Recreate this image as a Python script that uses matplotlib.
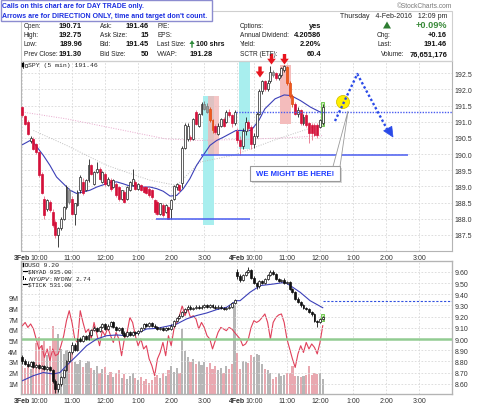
import matplotlib
matplotlib.use("Agg")
import matplotlib.pyplot as plt
from matplotlib.patches import Rectangle, Polygon, Ellipse
from matplotlib.lines import Line2D
import numpy as np

plt.rcParams['font.family'] = ['Liberation Sans', 'DejaVu Sans']

# ---------------- data ----------------
tick_bars = [0, 6, 18, 30, 42, 54, 66, 78, 84, 96, 108, 120, 132, 144]
tick_labels = ["3Feb", "10:00", "11:00", "12:00", "1:00", "2:00", "3:00",
               "4Feb", "10:00", "11:00", "12:00", "1:00", "2:00", "3:00"]
top_ticks = [187.5, 188.0, 188.5, 189.0, 189.5, 190.0, 190.5, 191.0, 191.5, 192.0, 192.5]
uso_ticks = [8.6, 8.7, 8.8, 8.9, 9.0, 9.1, 9.2, 9.3, 9.4, 9.5, 9.6]
vol_ticks = [1, 2, 3, 4, 5, 6, 7, 8, 9]

spy_open = [191.45, 191.19, 191.00, 190.40, 190.47, 190.30, 190.06, 189.39, 188.62, 188.31,
            188.52, 188.21, 187.90, 187.49, 187.70, 188.00, 188.36, 188.88, 188.62, 188.16,
            188.42, 188.88, 189.14, 188.88, 189.19, 189.65, 189.08, 189.44, 189.55, 189.14,
            189.39, 189.03, 189.19, 188.98, 189.08, 188.98, 188.62, 188.83, 188.62, 188.88,
            189.03, 189.14, 188.93, 189.03, 188.98, 188.98, 188.93, 188.88, 188.57, 188.52,
            188.16, 188.42, 188.21, 188.36, 188.31, 188.62, 188.98, 189.03, 189.10, 190.20,
            190.47, 190.52, 190.47, 191.30, 190.88, 191.24, 191.40, 191.50, 191.40, 191.04,
            190.88, 190.63, 190.88, 191.09, 190.98, 191.30, 191.20, 190.95,
            190.71, 190.45, 190.25, 190.70, 191.00, 190.85, 190.30, 190.55, 191.25, 191.95,
            192.25, 192.00, 192.25, 192.55, 192.50, 192.35, 192.45, 192.60, 192.70, 192.20,
            191.80, 191.55, 191.25, 191.35, 190.95, 191.20, 190.95, 190.90, 190.90, 190.90,
            190.85, 190.95]
spy_high = [191.50, 191.22, 191.05, 190.55, 190.52, 190.35, 190.10, 189.45, 188.70, 188.62,
            188.58, 188.30, 187.95, 187.75, 188.05, 188.40, 189.05, 188.95, 188.70, 188.50,
            188.88, 189.35, 189.25, 189.22, 189.86, 189.70, 189.48, 189.75, 189.60, 189.48,
            189.45, 189.28, 189.25, 189.22, 189.12, 189.02, 188.90, 188.88, 189.00, 189.18,
            189.55, 189.20, 189.10, 189.08, 189.02, 189.02, 188.98, 188.92, 188.62, 188.58,
            188.50, 188.48, 188.45, 188.40, 188.62, 189.05, 189.10, 189.08, 190.25, 190.95,
            190.95, 190.60, 191.12, 191.35, 191.28, 191.60, 191.65, 191.58, 191.45, 191.08,
            190.92, 190.95, 191.12, 191.15, 191.35, 191.40, 191.25, 191.35,
            190.80, 190.55, 190.80, 191.15, 191.05, 190.90, 190.65, 191.30, 192.00, 192.30,
            192.30, 192.28, 192.72, 192.60, 192.55, 192.50, 192.70, 192.75, 192.72, 192.25,
            191.85, 191.60, 191.45, 191.40, 191.25, 191.30, 191.00, 190.95, 190.95, 190.95,
            191.10, 191.55]
spy_low = [191.15, 190.90, 190.60, 190.35, 190.12, 190.00, 189.30, 188.75, 188.00, 188.25,
           188.20, 187.75, 187.39, 187.13, 187.65, 187.95, 188.30, 188.45, 188.10, 187.80,
           188.38, 188.80, 188.72, 188.85, 189.15, 189.35, 189.05, 189.40, 189.20, 189.10,
           189.00, 189.00, 188.85, 188.95, 188.68, 188.55, 188.58, 188.48, 188.58, 188.85,
           189.00, 188.90, 188.88, 188.85, 188.78, 188.75, 188.68, 188.62, 188.15, 188.10,
           188.10, 188.05, 188.18, 187.98, 188.00, 188.58, 188.90, 188.80, 188.95, 190.15,
           190.40, 190.40, 190.42, 190.90, 190.85, 191.20, 191.35, 191.28, 191.00, 190.65,
           190.62, 190.58, 190.85, 190.85, 190.95, 191.15, 190.85, 190.90,
           190.35, 189.96, 190.15, 190.60, 190.70, 190.15, 190.20, 190.50, 191.20, 191.85,
           191.95, 191.95, 192.20, 192.40, 192.30, 192.30, 192.40, 192.55, 192.15, 191.75,
           191.45, 191.20, 191.15, 190.90, 190.90, 190.85, 190.35, 190.45, 190.55, 190.50,
           190.80, 190.90]
spy_close = [191.20, 190.94, 190.63, 190.50, 190.16, 190.06, 189.34, 188.78, 188.11, 188.57,
             188.26, 187.80, 187.49, 187.70, 188.00, 188.36, 188.98, 188.52, 188.16, 188.47,
             188.83, 189.29, 188.78, 189.19, 189.65, 189.39, 189.44, 189.55, 189.24, 189.44,
             189.08, 189.24, 188.93, 189.19, 188.72, 188.62, 188.88, 188.52, 188.98, 189.14,
             189.24, 188.93, 189.08, 188.88, 188.83, 188.78, 188.72, 188.67, 188.21, 188.16,
             188.47, 188.11, 188.42, 188.00, 188.57, 189.00, 189.08, 188.88, 190.20, 190.90,
             190.88, 190.47, 191.09, 190.94, 191.24, 191.55, 191.55, 191.30, 191.04, 190.73,
             190.68, 190.88, 191.09, 190.88, 191.30, 191.20, 190.95, 191.30,
             190.45, 190.25, 190.70, 191.00, 190.80, 190.30, 190.55, 191.25, 191.95, 192.25,
             192.00, 192.20, 192.55, 192.45, 192.35, 192.45, 192.65, 192.72, 192.20, 191.80,
             191.55, 191.25, 191.35, 190.95, 191.15, 190.90, 190.65, 190.65, 190.60, 190.60,
             191.05, 191.46]
spy_gray_bars = [17, 66, 67, 91]
spy_orange_bars = [68, 69, 96, 97, 98]

spy_ma_bars = [0, 2.8, 4, 5.8, 7.6, 10, 12.4, 14.9, 17.3, 19.7, 22.1, 24.5, 27, 29.4, 31.8,
               34.2, 36.6, 39, 41.5, 43.9, 46.3, 48.7, 51.1, 53.6, 56, 58.4, 60.8, 63.2, 65.6,
               68.1, 70.5, 72.9, 75.3, 77.5, 79.5, 83, 85.8, 88, 91.7, 95, 97.5, 101, 104.6,
               108.3, 109]
spy_ma_vals = [190.29, 190.42, 190.37, 190.16, 189.96, 189.65, 189.29, 189.08, 188.88, 188.78,
               188.83, 188.88, 188.98, 189.05, 189.12, 189.14, 189.08, 189.01, 189.01, 188.98,
               188.98, 188.93, 188.85, 188.70, 188.72, 188.93, 189.24, 189.65, 189.96, 190.27,
               190.42, 190.52, 190.63, 190.73, 190.73, 190.73, 191.04, 191.40, 191.71, 191.83,
               191.81, 191.65, 191.45, 191.29, 191.27]
spy_ma2_bars = [0, 16, 34, 52, 64, 78, 95, 109]
spy_ma2_vals = [191.30, 191.09, 190.78, 190.47, 190.42, 190.45, 190.50, 190.57]
spy_ma3_bars = [4, 16, 30.6, 46.3, 56, 64.4, 76.5, 92, 109]
spy_ma3_vals = [190.73, 190.27, 189.65, 189.19, 189.03, 189.75, 189.96, 190.45, 190.93]

prev_close = 191.30
support_upper = 189.96
support_lower = 188.00

uso_open = [8.84, 8.80, 8.78, 8.76, 8.79, 8.75, 8.77, 8.74, 8.76, 8.73,
            8.75, 8.72, 8.62, 8.55, 8.60, 8.66, 8.72, 8.80, 8.88, 8.95,
            8.90, 9.00, 8.98, 9.03, 9.00, 9.04, 9.08, 9.10, 9.07, 9.11,
            9.13, 9.09, 9.12, 9.15, 9.11, 9.08, 9.10, 9.05, 9.03, 9.06,
            9.04, 9.06, 9.05, 9.07, 9.10, 9.13, 9.12, 9.14, 9.12, 9.11,
            9.09, 9.10, 9.08, 9.10, 9.09, 9.12, 9.16, 9.19, 9.21, 9.24,
            9.27, 9.29, 9.27, 9.28, 9.29, 9.28, 9.29, 9.30, 9.29, 9.30,
            9.29, 9.28, 9.29, 9.28, 9.27, 9.28, 9.29, 9.32,
            9.60, 9.56, 9.53, 9.57, 9.60, 9.62, 9.55, 9.50, 9.47, 9.52,
            9.50, 9.54, 9.57, 9.60, 9.58, 9.54, 9.52, 9.53, 9.50, 9.51,
            9.45, 9.42, 9.36, 9.33, 9.30, 9.28, 9.27, 9.24, 9.22, 9.16,
            9.15, 9.18]
uso_high = [8.86, 8.82, 8.80, 8.80, 8.80, 8.78, 8.78, 8.77, 8.77, 8.76,
            8.76, 8.73, 8.64, 8.61, 8.67, 8.73, 8.81, 8.89, 8.97, 8.96,
            9.01, 9.02, 9.04, 9.04, 9.06, 9.09, 9.12, 9.11, 9.12, 9.14,
            9.14, 9.13, 9.16, 9.16, 9.12, 9.11, 9.11, 9.07, 9.07, 9.07,
            9.07, 9.07, 9.08, 9.11, 9.14, 9.14, 9.15, 9.15, 9.13, 9.12,
            9.11, 9.11, 9.11, 9.11, 9.13, 9.17, 9.20, 9.22, 9.25, 9.28,
            9.30, 9.30, 9.29, 9.30, 9.30, 9.30, 9.31, 9.31, 9.31, 9.31,
            9.30, 9.30, 9.30, 9.29, 9.29, 9.30, 9.33, 9.36,
            9.63, 9.58, 9.58, 9.61, 9.64, 9.63, 9.56, 9.51, 9.53, 9.53,
            9.55, 9.58, 9.62, 9.62, 9.59, 9.55, 9.54, 9.55, 9.52, 9.52,
            9.46, 9.43, 9.38, 9.34, 9.31, 9.29, 9.28, 9.25, 9.23, 9.17,
            9.19, 9.21]
uso_low = [8.78, 8.77, 8.75, 8.75, 8.74, 8.74, 8.73, 8.73, 8.72, 8.72,
           8.71, 8.61, 8.52, 8.53, 8.58, 8.65, 8.71, 8.79, 8.87, 8.89,
           8.89, 8.97, 8.97, 8.99, 8.99, 9.03, 9.07, 9.06, 9.06, 9.10,
           9.08, 9.08, 9.11, 9.10, 9.07, 9.07, 9.04, 9.02, 9.02, 9.03,
           9.03, 9.04, 9.04, 9.06, 9.09, 9.11, 9.11, 9.11, 9.10, 9.08,
           9.08, 9.07, 9.07, 9.08, 9.08, 9.11, 9.15, 9.18, 9.20, 9.23,
           9.26, 9.26, 9.26, 9.27, 9.27, 9.27, 9.28, 9.28, 9.28, 9.28,
           9.27, 9.27, 9.27, 9.26, 9.26, 9.27, 9.28, 9.31,
           9.54, 9.51, 9.52, 9.56, 9.59, 9.54, 9.49, 9.45, 9.46, 9.49,
           9.49, 9.53, 9.56, 9.57, 9.53, 9.51, 9.51, 9.49, 9.49, 9.44,
           9.41, 9.35, 9.32, 9.29, 9.27, 9.26, 9.23, 9.21, 9.15, 9.11,
           9.14, 9.17]
uso_close = [8.80, 8.78, 8.76, 8.79, 8.75, 8.77, 8.74, 8.76, 8.73, 8.75,
             8.72, 8.62, 8.55, 8.60, 8.66, 8.72, 8.80, 8.88, 8.95, 8.90,
             9.00, 8.98, 9.03, 9.00, 9.04, 9.08, 9.10, 9.07, 9.11, 9.13,
             9.09, 9.12, 9.15, 9.11, 9.08, 9.10, 9.05, 9.03, 9.06, 9.04,
             9.06, 9.05, 9.07, 9.10, 9.13, 9.12, 9.14, 9.12, 9.11, 9.09,
             9.10, 9.08, 9.10, 9.09, 9.12, 9.16, 9.19, 9.21, 9.24, 9.27,
             9.29, 9.27, 9.28, 9.29, 9.28, 9.29, 9.30, 9.29, 9.30, 9.29,
             9.28, 9.29, 9.28, 9.27, 9.28, 9.29, 9.32, 9.35,
             9.56, 9.53, 9.57, 9.60, 9.62, 9.55, 9.50, 9.47, 9.52, 9.50,
             9.54, 9.57, 9.60, 9.58, 9.54, 9.52, 9.53, 9.50, 9.51, 9.45,
             9.42, 9.36, 9.33, 9.30, 9.28, 9.27, 9.24, 9.22, 9.16, 9.15,
             9.18, 9.20]
uso_prev_close = 9.343
uso_ref_level = 9.00

uso_ma_bars = [0, 4, 7.6, 11.2, 13.6, 16, 19.7, 23.3, 27, 30.6, 34.2, 37.8, 41.5, 45.1, 48.7,
               52.3, 56, 59.6, 63.2, 66.9, 70.5, 74.1, 77.7, 79, 82.6, 86.3, 91.1, 95.3, 97.2,
               100.8, 104.4, 108.7, 109]
uso_ma_vals = [8.627, 8.672, 8.700, 8.687, 8.700, 8.761, 8.850, 8.940, 9.000, 9.030, 9.036,
               9.030, 9.050, 9.090, 9.095, 9.113, 9.134, 9.180, 9.210, 9.233, 9.263, 9.284,
               9.343, 9.343, 9.418, 9.478, 9.492, 9.507, 9.478, 9.418, 9.343, 9.284, 9.280]

volume_m = [2.6, 2.4, 2.8, 2.3, 2.5, 4.8, 5.3, 4.6, 5.0, 3.6,
            4.5, 6.4, 5.2, 5.6, 4.2, 3.7, 4.1, 3.3, 3.8, 3.0,
            2.8, 3.2, 2.5, 2.9, 3.1, 2.4, 2.2, 2.6, 2.0, 2.3,
            2.5, 1.8, 2.1, 1.6, 2.0, 2.2, 1.5, 1.9, 1.4, 1.7,
            2.0, 1.5, 1.3, 1.6, 1.2, 1.4, 1.0, 1.3, 1.6, 1.8,
            1.5, 2.0, 1.7, 2.2, 2.6, 2.1, 2.4, 2.0, 6.1, 4.0,
            3.5, 3.0, 3.3, 2.8, 3.1, 2.7, 3.0, 2.5, 2.9, 2.3,
            2.6, 2.2, 2.4, 2.0, 2.6, 2.3, 2.8, 8.3,
            3.8, 2.3, 3.1, 3.0, 2.9, 3.6, 3.5, 3.7, 3.6, 2.8,
            2.3, 2.2, 2.0, 1.4, 1.6, 2.0, 1.7, 1.8, 2.0, 2.0,
            2.6, 1.7, 1.7, 1.6, 1.7, 1.8, 2.6, 1.8, 2.0, 1.9,
            2.0, 1.4]

nyad = [935, 1000, 900, 970, 870, 670, 470, 535, 300, 470,
        235, 470, 335, 370, 535, 735, 1035, 1235, 1000, 670,
        600, 1235, 1000, 800, 870, 670, 1000, 770, 535, 835,
        735, 900, 735, 600, 800, 670, 335, 670, 800, 1100,
        1000, 735, 535, 670, 470, 535, 270, 135, -65, 270,
        400, 600, 335, 735, 535, 870, 1000, 1135, 1335, 1135,
        1270, 1100, 1135, 1070, 870, 1000, 900, 735, 670, 470,
        635, 800, 900, 870, 835, 900, 870, 800,
        735, 670, 535, 570, 670, 900, 1035, 1000, 1035, 1100,
        1170, 1000, 670, 1000, 1100, 1150, 1170, 1000, 670, 470,
        270, 100, 370, 535, 400, 600, 470, 570, 500, 370,
        600, 935]

# ---------------- layout ----------------
W, H = 480, 406
fig = plt.figure(figsize=(W / 100, H / 100), dpi=100)
fig.patch.set_facecolor('white')


def P(x, y):
    return (x / W, 1 - y / H)


XMIN, XMAX = -0.5, 155.9
LEFT, RIGHT = 21, 452
ax = fig.add_axes([LEFT / W, 1 - 252 / H, (RIGHT - LEFT) / W, 190 / H])
axv = fig.add_axes([LEFT / W, 1 - 395 / H, (RIGHT - LEFT) / W, 133 / H])
axn = axv.twinx()
axu = axv.twinx()

grid_kw = dict(color='#d8d8d8', linestyle=(0, (2, 2)), linewidth=0.6)
spine_c = '#b4b4b4'
tick_c = '#333333'

for a in (ax, axv, axn, axu):
    a.set_xlim(XMIN, XMAX)
    for s in a.spines.values():
        s.set_color(spine_c)
        s.set_linewidth(0.8)


def style_xticks(a):
    a.set_xticks(tick_bars)
    a.set_xticklabels(tick_labels)
    for k, lab in enumerate(a.get_xticklabels()):
        if tick_labels[k].endswith("Feb"):
            lab.set_fontweight('bold')
            lab.set_color('#111111')


def draw_candles(a, o, h, l, c, up_fc, up_ec, dn_fc, dn_ec, wick_up, wick_dn,
                 overrides, minh, width=0.7, z=3):
    x = np.arange(len(o))
    o = np.asarray(o); h = np.asarray(h); l = np.asarray(l); c = np.asarray(c)
    fcs, ecs, wcs = [], [], []
    for i in range(len(o)):
        if c[i] >= o[i]:
            s = (up_fc, up_ec, wick_up)
        else:
            s = (dn_fc, dn_ec, wick_dn)
        if i in overrides:
            s = overrides[i]
        fcs.append(s[0]); ecs.append(s[1]); wcs.append(s[2])
    a.vlines(x, l, h, colors=wcs, linewidth=0.6, zorder=z)
    bottoms = np.minimum(o, c)
    heights = np.maximum(np.abs(c - o), minh)
    a.bar(x, heights, width, bottoms, color=fcs, edgecolor=ecs, linewidth=0.5, zorder=z + 0.1)


# ---------------- top panel ----------------
ax.set_ylim(187.0, 192.88)
ax.yaxis.tick_right()
ax.set_yticks(top_ticks)
ax.set_yticklabels([f"{v:.1f}" for v in top_ticks])
style_xticks(ax)
ax.tick_params(length=0, labelsize=5, colors=tick_c, pad=2)
ax.grid(True, **grid_kw)
ax.set_axisbelow(True)

# highlight zones
ax.add_patch(Rectangle((65.5, 187.80), 4, 191.79 - 187.80, fc='#a8eeee', ec='none', zorder=1))
ax.add_patch(Rectangle((67.5, 189.96), 4, 191.79 - 189.96, fc='#f2b4b4', ec='none', alpha=0.75, zorder=1.1))
ax.add_patch(Rectangle((78.5, 190.16), 4, 192.88 - 190.16, fc='#a8eeee', ec='none', zorder=1))
ax.add_patch(Rectangle((93.5, 190.93), 4, 192.76 - 190.93, fc='#f4bcbc', ec='none', zorder=1))

ax.plot(spy_ma2_bars, spy_ma2_vals, color='#e8a8cc', lw=0.7, ls=(0, (1, 1.5)), zorder=2)
ax.plot(spy_ma3_bars, spy_ma3_vals, color='#c0c0c0', lw=0.7, ls=(0, (1, 1.5)), zorder=2)
ax.plot(spy_ma_bars, spy_ma_vals, color='#3b3fb8', lw=0.8, zorder=2.5)

ax.hlines(support_upper, 64.8, 139.9, color='#4a5cf0', lw=1.1, zorder=4)
ax.hlines(support_lower, 48.5, 82.6, color='#4a5cf0', lw=1.1, zorder=4)
ax.hlines(prev_close, 77.5, XMAX, color='#4a5cf0', lw=1.0, ls=(0, (1, 1)), zorder=4)

ax.add_patch(Rectangle((108.5, 190.86), 1.0, 0.74, fc='#c8f5b0', ec='#60c040', lw=0.6, zorder=2.8))

ov = {}
for i in spy_gray_bars:
    ov[i] = ('#9a9a9a', '#7a7a7a', '#7a7a7a')
for i in spy_orange_bars:
    ov[i] = ('#f05a1e', '#e04a10', '#e04a10')
draw_candles(ax, spy_open, spy_high, spy_low, spy_close,
             'white', '#222222', '#d4103a', '#d4103a', '#222222', '#e87088', ov, 0.02)

# ---------------- bottom panel ----------------
vol_colors = ['#e9a8b0' if c < o else '#b6b6b6' for o, c in zip(spy_open, spy_close)]
axv.set_ylim(0, 12.43)
axv.set_yticks(vol_ticks)
axv.set_yticklabels([f"{v}M" for v in vol_ticks])
style_xticks(axv)
axv.tick_params(length=0, labelsize=5, colors=tick_c, pad=2)
axv.grid(True, axis='x', **grid_kw)
axv.set_axisbelow(True)
axv.bar(np.arange(len(volume_m)), volume_m, 0.78, color=vol_colors, zorder=2)

axn.set_ylim(-431, 2229)
axn.set_yticks([])
axn.plot(np.arange(len(nyad)), nyad, color='#e0405a', lw=0.8)

axu.set_ylim(8.508, 9.698)
axu.set_yticks(uso_ticks)
axu.set_yticklabels([f"{v:.2f}" for v in uso_ticks])
axu.tick_params(length=0, labelsize=5, colors=tick_c, pad=2)
axu.yaxis.grid(True, **grid_kw)
axu.axhline(uso_ref_level, color='#92cc92', lw=1.8, zorder=2)
axu.plot(uso_ma_bars, uso_ma_vals, color='#3b3fb8', lw=0.8, zorder=2.5)
axu.hlines(uso_prev_close, len(uso_close) - 1, XMAX, color='#3050e0', lw=0.8, ls=(0, (2, 1.5)), zorder=2.5)
axu.add_patch(Rectangle((108.5, 9.165), 1.0, 0.06, fc='#c8f5b0', ec='#60c040', lw=0.6, zorder=2.8))
draw_candles(axu, uso_open, uso_high, uso_low, uso_close,
             'white', '#111111', '#111111', '#111111', '#111111', '#111111', {}, 0.004)

# ---------------- header ----------------
renderer = fig.canvas.get_renderer()


def ftext(x, y, s, ha='left', size=4.7, weight='normal', color='#222222', family=None):
    return fig.text(x / W, 1 - y / H, s, ha=ha, va='center', fontsize=size,
                    fontweight=weight, color=color,
                    family=family or ['Liberation Sans', 'DejaVu Sans'])


def fit_text(x, y, s, target_w, ha='left', **kw):
    t = ftext(x, y, s, ha=ha, size=10, **kw)
    w = t.get_window_extent(renderer=renderer).width
    t.set_fontsize(10 * target_w / w)
    return t


def fig_poly(pts, **kw):
    fig.add_artist(Polygon([P(*p) for p in pts], closed=True, transform=fig.transFigure, **kw))


fig.add_artist(Rectangle(P(LEFT, 61.5), (RIGHT - LEFT) / W, 49.5 / H, transform=fig.transFigure,
                         fc='none', ec='#cfcfcf', lw=0.8))

rows = [26, 35.5, 45, 55]
VAL = dict(size=5.4, weight='bold', color='#111111')
for y, lab, val in zip(rows, ["Open:", "High:", "Low:", "Prev Close:"],
                       ["190.71", "192.75", "189.96", "191.30"]):
    ftext(24, y, lab)
    ftext(82, y, val, ha='right', **VAL)
for y, lab, val in zip(rows, ["Ask:", "Ask Size:", "Bid:", "Bid Size:"],
                       ["191.46", "15", "191.45", "50"]):
    ftext(100, y, lab)
    ftext(149, y, val, ha='right', **VAL)
for y, lab in zip(rows, ["P/E:", "EPS:", "Last Size:", "VWAP:"]):
    ftext(157, y, lab)
# green up-tick arrow (drawn shape)
fig_poly([(192.0, 41.3), (194.6, 45), (192.7, 45), (192.7, 48.7), (191.3, 48.7), (191.3, 45), (189.4, 45)],
         fc='#2e8b3a', ec='none')
ftext(224, rows[2], "100 shrs", ha='right', size=5.0, weight='bold', color='#111111')
ftext(213, rows[3], "191.28", ha='right', **VAL)
for y, lab, val in zip(rows, ["Options:", "Annual Dividend:", "Yield:", "SCTR (ETF):"],
                       ["yes", "4.20586", "2.20%", "60.4"]):
    ftext(240, y, lab)
    ftext(321, y, val, ha='right', **VAL)

ftext(447, 16.5, "Thursday   4-Feb-2016   12:09 pm", ha='right', size=5)
fig_poly([(387, 22.5), (391, 29.5), (383, 29.5)], fc='#2e7d32', ec='none')
ftext(447, rows[0], "+0.09%", ha='right', size=6.6, weight='bold', color='#3a8a3a')
ftext(377, rows[1], "Chg:")
ftext(447, rows[1], "+0.16", ha='right', **VAL)
ftext(377, rows[2], "Last:")
ftext(447, rows[2], "191.46", ha='right', **VAL)
ftext(381, rows[3], "Volume:")
ftext(447, rows[3], "76,651,176", ha='right', **VAL)

ftext(452, 6.5, "\u00a9StockCharts.com", ha='right', size=4.8, color='#777777')

# blue notice box
fig.add_artist(Rectangle(P(0.5, 22), 211.5 / W, 21.5 / H, transform=fig.transFigure,
                         fc='white', ec='#8c8cd0', lw=1.0))
fit_text(2.5, 6.8, "Calls on this chart are for DAY TRADE only.", 141, weight='bold', color='#1c2fe0')
fit_text(2.5, 16.2, "Arrows are for DIRECTION ONLY, time and target don't count.", 203,
         weight='bold', color='#1c2fe0')

# legend labels
mono = ['Liberation Mono', 'DejaVu Sans Mono']
ftext(28, 65.8, "SPY (5 min) 191.46", size=4.6, family=mono, color='#222222')
fig.add_artist(Line2D([23.2 / W, 23.2 / W], [1 - 62.5 / H, 1 - 69 / H], transform=fig.transFigure, color='k', lw=0.5))
fig.add_artist(Rectangle(P(22.4, 68), 1.6 / W, 4 / H, transform=fig.transFigure, fc='k', ec='k', lw=0.3))
fig.add_artist(Rectangle(P(25.0, 67.5), 1.6 / W, 3 / H, transform=fig.transFigure, fc='white', ec='k', lw=0.4))

ftext(28, 265.5, "USO 9.20", size=4.6, family=mono)
fig.add_artist(Rectangle(P(22.6, 267.5), 1.5 / W, 4 / H, transform=fig.transFigure, fc='k', ec='k', lw=0.3))
fig.add_artist(Rectangle(P(25.0, 267), 1.5 / W, 3 / H, transform=fig.transFigure, fc='white', ec='k', lw=0.4))
ftext(28, 272.2, "$NYAD 935.00", size=4.4, family=mono)
fig.add_artist(Line2D([22.5 / W, 26.5 / W], [1 - 272.2 / H] * 2, transform=fig.transFigure, color='k', lw=0.8))
ftext(28, 278.6, "$NYUPV:$NYDNV 2.74", size=4.4, family=mono)
fig.add_artist(Rectangle(P(22.5, 281), 1.3 / W, 4 / H, transform=fig.transFigure, fc='k', ec='none'))
fig.add_artist(Rectangle(P(24.7, 281), 1.3 / W, 2.5 / H, transform=fig.transFigure, fc='k', ec='none'))
ftext(28, 285, "$TICK 531.00", size=4.4, family=mono)
fig.add_artist(Line2D([22.5 / W, 26.5 / W], [1 - 285 / H] * 2, transform=fig.transFigure, color='k', lw=0.8))

# ---------------- annotations ----------------
def red_arrow(cx, ytop, ybot):
    ym = ytop + 0.45 * (ybot - ytop)
    fig_poly([(cx - 1.7, ytop), (cx + 1.7, ytop), (cx + 1.7, ym), (cx + 4.3, ym),
              (cx, ybot), (cx - 4.3, ym), (cx - 1.7, ym)], fc='#e8141e', ec='none')


red_arrow(260, 67.5, 78.5)
red_arrow(271.5, 55, 65.5)
red_arrow(284.5, 55, 65.5)

# projected path (dotted blue arrow)
fig.add_artist(Line2D([335 / W, 357.3 / W, 387 / W], [1 - 122 / H, 1 - 75 / H, 1 - 130 / H],
                      transform=fig.transFigure, color='#2a4ae8', lw=1.7, ls=(0, (1, 1.0))))
fig_poly([(393, 138), (391.8, 127.3), (383.6, 131.8)], fc='#2a4ae8', ec='#2a4ae8', lw=0.5)

# yellow marker
fig.add_artist(Ellipse(P(343, 103), 13 / W, 13 / H, transform=fig.transFigure,
                       fc='#fff000', ec='#d8c400', lw=0.6))

# callout
fig_poly([(333, 167.5), (340, 167.5), (348, 112)], fc='white', ec='#9a9a9a', lw=0.6)
fig.add_artist(Rectangle(P(252, 184), 90 / W, 15 / H, transform=fig.transFigure,
                         fc='#d8d8d8', ec='none'))
fig.add_artist(Rectangle(P(250, 182), 90 / W, 15 / H, transform=fig.transFigure,
                         fc='white', ec='#9a9a9a', lw=0.8))
fit_text(295, 174.8, "WE MIGHT BE HERE!", 79, ha='center', weight='bold', color='#1f3cff')

fig.savefig("out.png", dpi=100)
